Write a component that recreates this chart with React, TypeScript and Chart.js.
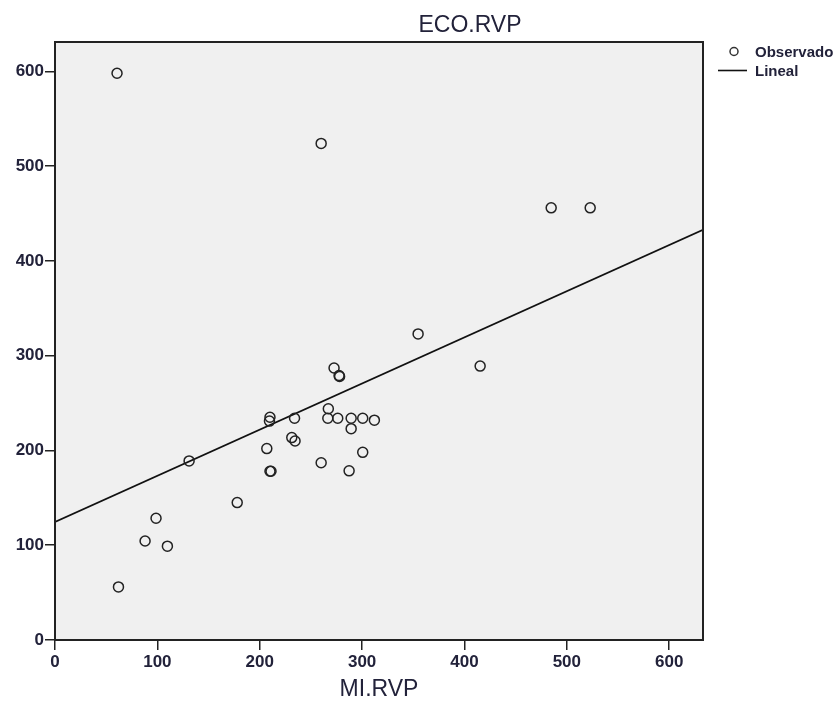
import React, { useEffect, useRef } from "react";
import { Chart, registerables } from "chart.js";

Chart.register(...registerables);

// Observed pairs (MI.RVP, ECO.RVP)
const miRvp = [
  60.6, 62, 88, 98.7, 109.8, 131, 178, 206.9, 209.5, 210, 210, 211, 231.3, 234.5,
  234, 260, 260, 266.5, 267, 272.6, 276.2, 278, 277.5, 287.3, 289.3, 289.3, 300.6,
  300.6, 312, 354.7, 415.3, 484.7, 522.8,
];
const ecoRvp = [
  598, 56, 104.5, 128.5, 99, 189, 145, 202, 231, 235, 178, 178, 213.6, 210,
  234, 187, 524, 234, 244, 287, 234, 278, 279, 178.5, 234, 223, 234,
  198, 232, 323, 289, 456, 456,
];

// Linear fit ("Lineal")
const fitIntercept = 124.6;
const fitSlope = 0.487;

const tickValues = [0, 100, 200, 300, 400, 500, 600];
const xMax = 633;
const yMax = 631;

const FONT = "'Liberation Sans', Arial, sans-serif";
const TEXT = "#22223a";

const framePlugin = {
  id: "spssFrame",
  beforeDraw(chart: any) {
    const { ctx, chartArea: a } = chart;
    ctx.save();
    ctx.fillStyle = "#ffffff";
    ctx.fillRect(0, 0, chart.width, chart.height);
    ctx.fillStyle = "#f0f0f0";
    ctx.fillRect(a.left, a.top, a.right - a.left, a.bottom - a.top);
    ctx.restore();
  },
  afterDatasetsDraw(chart: any) {
    const { ctx, chartArea: a } = chart;
    ctx.save();
    ctx.strokeStyle = "#222222";
    ctx.lineWidth = 2;
    ctx.strokeRect(a.left, a.top, a.right - a.left, a.bottom - a.top);
    ctx.restore();
  },
  afterDraw(chart: any) {
    const { ctx, chartArea: a } = chart;
    ctx.save();
    ctx.fillStyle = TEXT;
    ctx.textBaseline = "alphabetic";
    // y variable name above the plot, x variable name below
    ctx.font = `23px ${FONT}`;
    ctx.textAlign = "center";
    ctx.fillText("ECO.RVP", 470, 32);
    ctx.fillText("MI.RVP", (a.left + a.right) / 2, 696);

    // legend
    ctx.strokeStyle = "#333333";
    ctx.lineWidth = 1.5;
    ctx.beginPath();
    ctx.arc(734, 51.5, 4, 0, Math.PI * 2);
    ctx.stroke();
    ctx.strokeStyle = "#111111";
    ctx.lineWidth = 1.6;
    ctx.beginPath();
    ctx.moveTo(718, 70.5);
    ctx.lineTo(747, 70.5);
    ctx.stroke();
    ctx.font = `bold 15px ${FONT}`;
    ctx.textAlign = "left";
    ctx.fillText("Observado", 755, 57);
    ctx.fillText("Lineal", 755, 76);
    ctx.restore();
  },
};

const tickFont = { family: FONT, size: 17, weight: "bold" as const };

export default function App() {
  const canvasRef = useRef<HTMLCanvasElement | null>(null);

  useEffect(() => {
    const canvas = canvasRef.current;
    if (!canvas) return;
    const points = miRvp.map((x, i) => ({ x, y: ecoRvp[i] }));
    const fitLine = [
      { x: 0, y: fitIntercept },
      { x: xMax, y: fitIntercept + fitSlope * xMax },
    ];
    const chart = new Chart(canvas, {
      type: "scatter",
      data: {
        datasets: [
          {
            label: "Observado",
            data: points,
            pointStyle: "circle",
            pointRadius: 5,
            pointBorderWidth: 1.5,
            borderColor: "#222222",
            backgroundColor: "rgba(0,0,0,0)",
            showLine: false,
          },
          {
            type: "line",
            label: "Lineal",
            data: fitLine,
            borderColor: "#111111",
            borderWidth: 1.6,
            pointRadius: 0,
            fill: false,
          } as any,
        ],
      },
      options: {
        animation: false,
        responsive: false,
        devicePixelRatio: 1,
        layout: { padding: { top: 42, right: 132, left: 0, bottom: 0 } },
        plugins: {
          legend: { display: false },
          title: { display: false },
          tooltip: { enabled: false },
        },
        scales: {
          x: {
            type: "linear",
            min: 0,
            max: xMax,
            afterBuildTicks: (axis: any) => {
              axis.ticks = tickValues.map((v) => ({ value: v }));
            },
            afterFit: (s: any) => {
              s.height = 62;
            },
            border: { display: false },
            grid: {
              display: true,
              drawOnChartArea: false,
              drawTicks: true,
              tickLength: 10,
              color: "#222222",
              lineWidth: 1.5,
            },
            ticks: {
              font: tickFont,
              color: TEXT,
              padding: 2,
              maxRotation: 0,
              autoSkip: false,
            },
          },
          y: {
            type: "linear",
            min: 0,
            max: yMax,
            afterBuildTicks: (axis: any) => {
              axis.ticks = tickValues.map((v) => ({ value: v }));
            },
            afterFit: (s: any) => {
              s.width = 55;
            },
            border: { display: false },
            grid: {
              display: true,
              drawOnChartArea: false,
              drawTicks: true,
              tickLength: 10,
              color: "#222222",
              lineWidth: 1.5,
            },
            ticks: {
              font: tickFont,
              color: TEXT,
              padding: 1,
              autoSkip: false,
            },
          },
        },
      },
      plugins: [framePlugin],
    });
    return () => chart.destroy();
  }, []);

  return (
    <div style={{ position: "absolute", left: 0, top: 0, width: 835, height: 702, background: "#fff" }}>
      <canvas ref={canvasRef} width={835} height={702} />
    </div>
  );
}
